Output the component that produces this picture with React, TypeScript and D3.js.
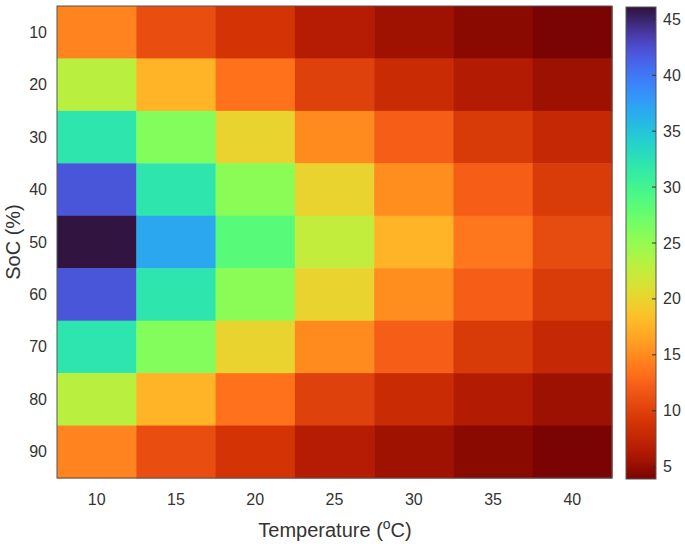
import React from 'react';
import * as d3 from 'd3';

const temps = [10, 15, 20, 25, 30, 35, 40];
const socs = [10, 20, 30, 40, 50, 60, 70, 80, 90];

// rows = SoC, columns = temperature
const values: number[][] = [
  [14.5, 11, 9, 6.5, 5.4, 4.6, 3.9],
  [23, 17.5, 13.5, 10, 8.1, 6.4, 5.3],
  [32, 26, 20, 15, 12.3, 9.5, 7.7],
  [42, 32, 25.5, 20, 15.2, 12.3, 9.6],
  [46, 37, 28.5, 22.5, 17.5, 13.8, 10.8],
  [42, 32, 25.5, 20, 15.2, 12.3, 9.6],
  [32, 26, 20, 15, 12.3, 9.5, 7.7],
  [23, 17.5, 13.5, 10, 8.1, 6.4, 5.3],
  [14.5, 11, 9, 6.5, 5.4, 4.6, 3.9],
];

const colorTicks = [5, 10, 15, 20, 25, 30, 35, 40, 45];
const cMin = 3.9;
const cMax = 46.1;

const font = '"Liberation Sans", Arial, Helvetica, sans-serif';
const textColor = '#333';

// d3's turbo is a polynomial fit; pin the ends closer to MATLAB's turbo table
const turboHead = d3
  .scaleLinear<string>()
  .domain([0, 0.06])
  .range(['#30123b', d3.interpolateTurbo(0.06)])
  .interpolate(d3.interpolateRgb);
const turboTail = d3
  .scaleLinear<string>()
  .domain([0.8, 0.88, 0.938, 0.964, 0.983, 1])
  .range([d3.interpolateTurbo(0.8), '#d43405', '#b51c03', '#a01202', '#8a0a02', '#7a0403'])
  .interpolate(d3.interpolateRgb);
const turbo = (t: number) => (t < 0.06 ? turboHead(t) : t > 0.8 ? turboTail(t) : d3.interpolateTurbo(t));

export default function App() {
  const W = 685;
  const H = 544;
  const plot = { left: 57, right: 612, top: 6, bottom: 478 };
  const bar = { left: 626, right: 656, top: 7, bottom: 479 };

  const x = d3.scaleBand<number>().domain(temps).range([plot.left, plot.right]);
  const y = d3.scaleBand<number>().domain(socs).range([plot.top, plot.bottom]);
  const cy = d3.scaleLinear().domain([cMin, cMax]).range([bar.bottom, bar.top]);
  const color = (v: number) => turbo(1 - (v - cMin) / (cMax - cMin));

  const stops = d3.range(0, 1.0001, 0.01);

  return (
    <svg width={W} height={H} style={{ position: 'absolute', left: 0, top: 0, background: '#fff' }}>
      <defs>
        <linearGradient id="cbar" x1="0" y1="1" x2="0" y2="0">
          {stops.map((s) => (
            <stop key={s} offset={s} stopColor={turbo(1 - s)} />
          ))}
        </linearGradient>
      </defs>

      {values.map((row, i) =>
        row.map((v, j) => (
          <rect
            key={`${i}-${j}`}
            x={x(temps[j])}
            y={y(socs[i])}
            width={x.bandwidth() + 0.5}
            height={y.bandwidth() + 0.5}
            fill={color(v)}
          />
        ))
      )}
      <rect
        x={plot.left}
        y={plot.top}
        width={plot.right - plot.left}
        height={plot.bottom - plot.top}
        fill="none"
        stroke="#555"
        strokeWidth={1}
      />

      {socs.map((s) => (
        <text
          key={s}
          x={plot.left - 10}
          y={(y(s) ?? 0) + y.bandwidth() / 2}
          textAnchor="end"
          dominantBaseline="central"
          fontFamily={font}
          fontSize={16}
          fill={textColor}
        >
          {s}
        </text>
      ))}
      {temps.map((t) => (
        <text
          key={t}
          x={(x(t) ?? 0) + x.bandwidth() / 2}
          y={499}
          textAnchor="middle"
          dominantBaseline="central"
          fontFamily={font}
          fontSize={16}
          fill={textColor}
        >
          {t}
        </text>
      ))}

      <text
        x={335}
        y={537}
        textAnchor="middle"
        fontFamily={font}
        fontSize={20}
        fill={textColor}
      >
        Temperature (<tspan dy={-8} fontSize={14}>o</tspan>
        <tspan dy={8}>C)</tspan>
      </text>
      <text
        transform={`translate(20, ${(plot.top + plot.bottom) / 2}) rotate(-90)`}
        textAnchor="middle"
        fontFamily={font}
        fontSize={20}
        fill={textColor}
      >
        SoC (%)
      </text>

      <rect
        x={bar.left}
        y={bar.top}
        width={bar.right - bar.left}
        height={bar.bottom - bar.top}
        fill="url(#cbar)"
        stroke="#555"
        strokeWidth={1}
      />
      {colorTicks.map((t) => (
        <g key={t}>
          <line x1={bar.right - 4} x2={bar.right} y1={cy(t)} y2={cy(t)} stroke="#333" strokeWidth={1} />
          <text
            x={bar.right + 7}
            y={cy(t)}
            dominantBaseline="central"
            fontFamily={font}
            fontSize={16}
            fill={textColor}
          >
            {t}
          </text>
        </g>
      ))}
    </svg>
  );
}
